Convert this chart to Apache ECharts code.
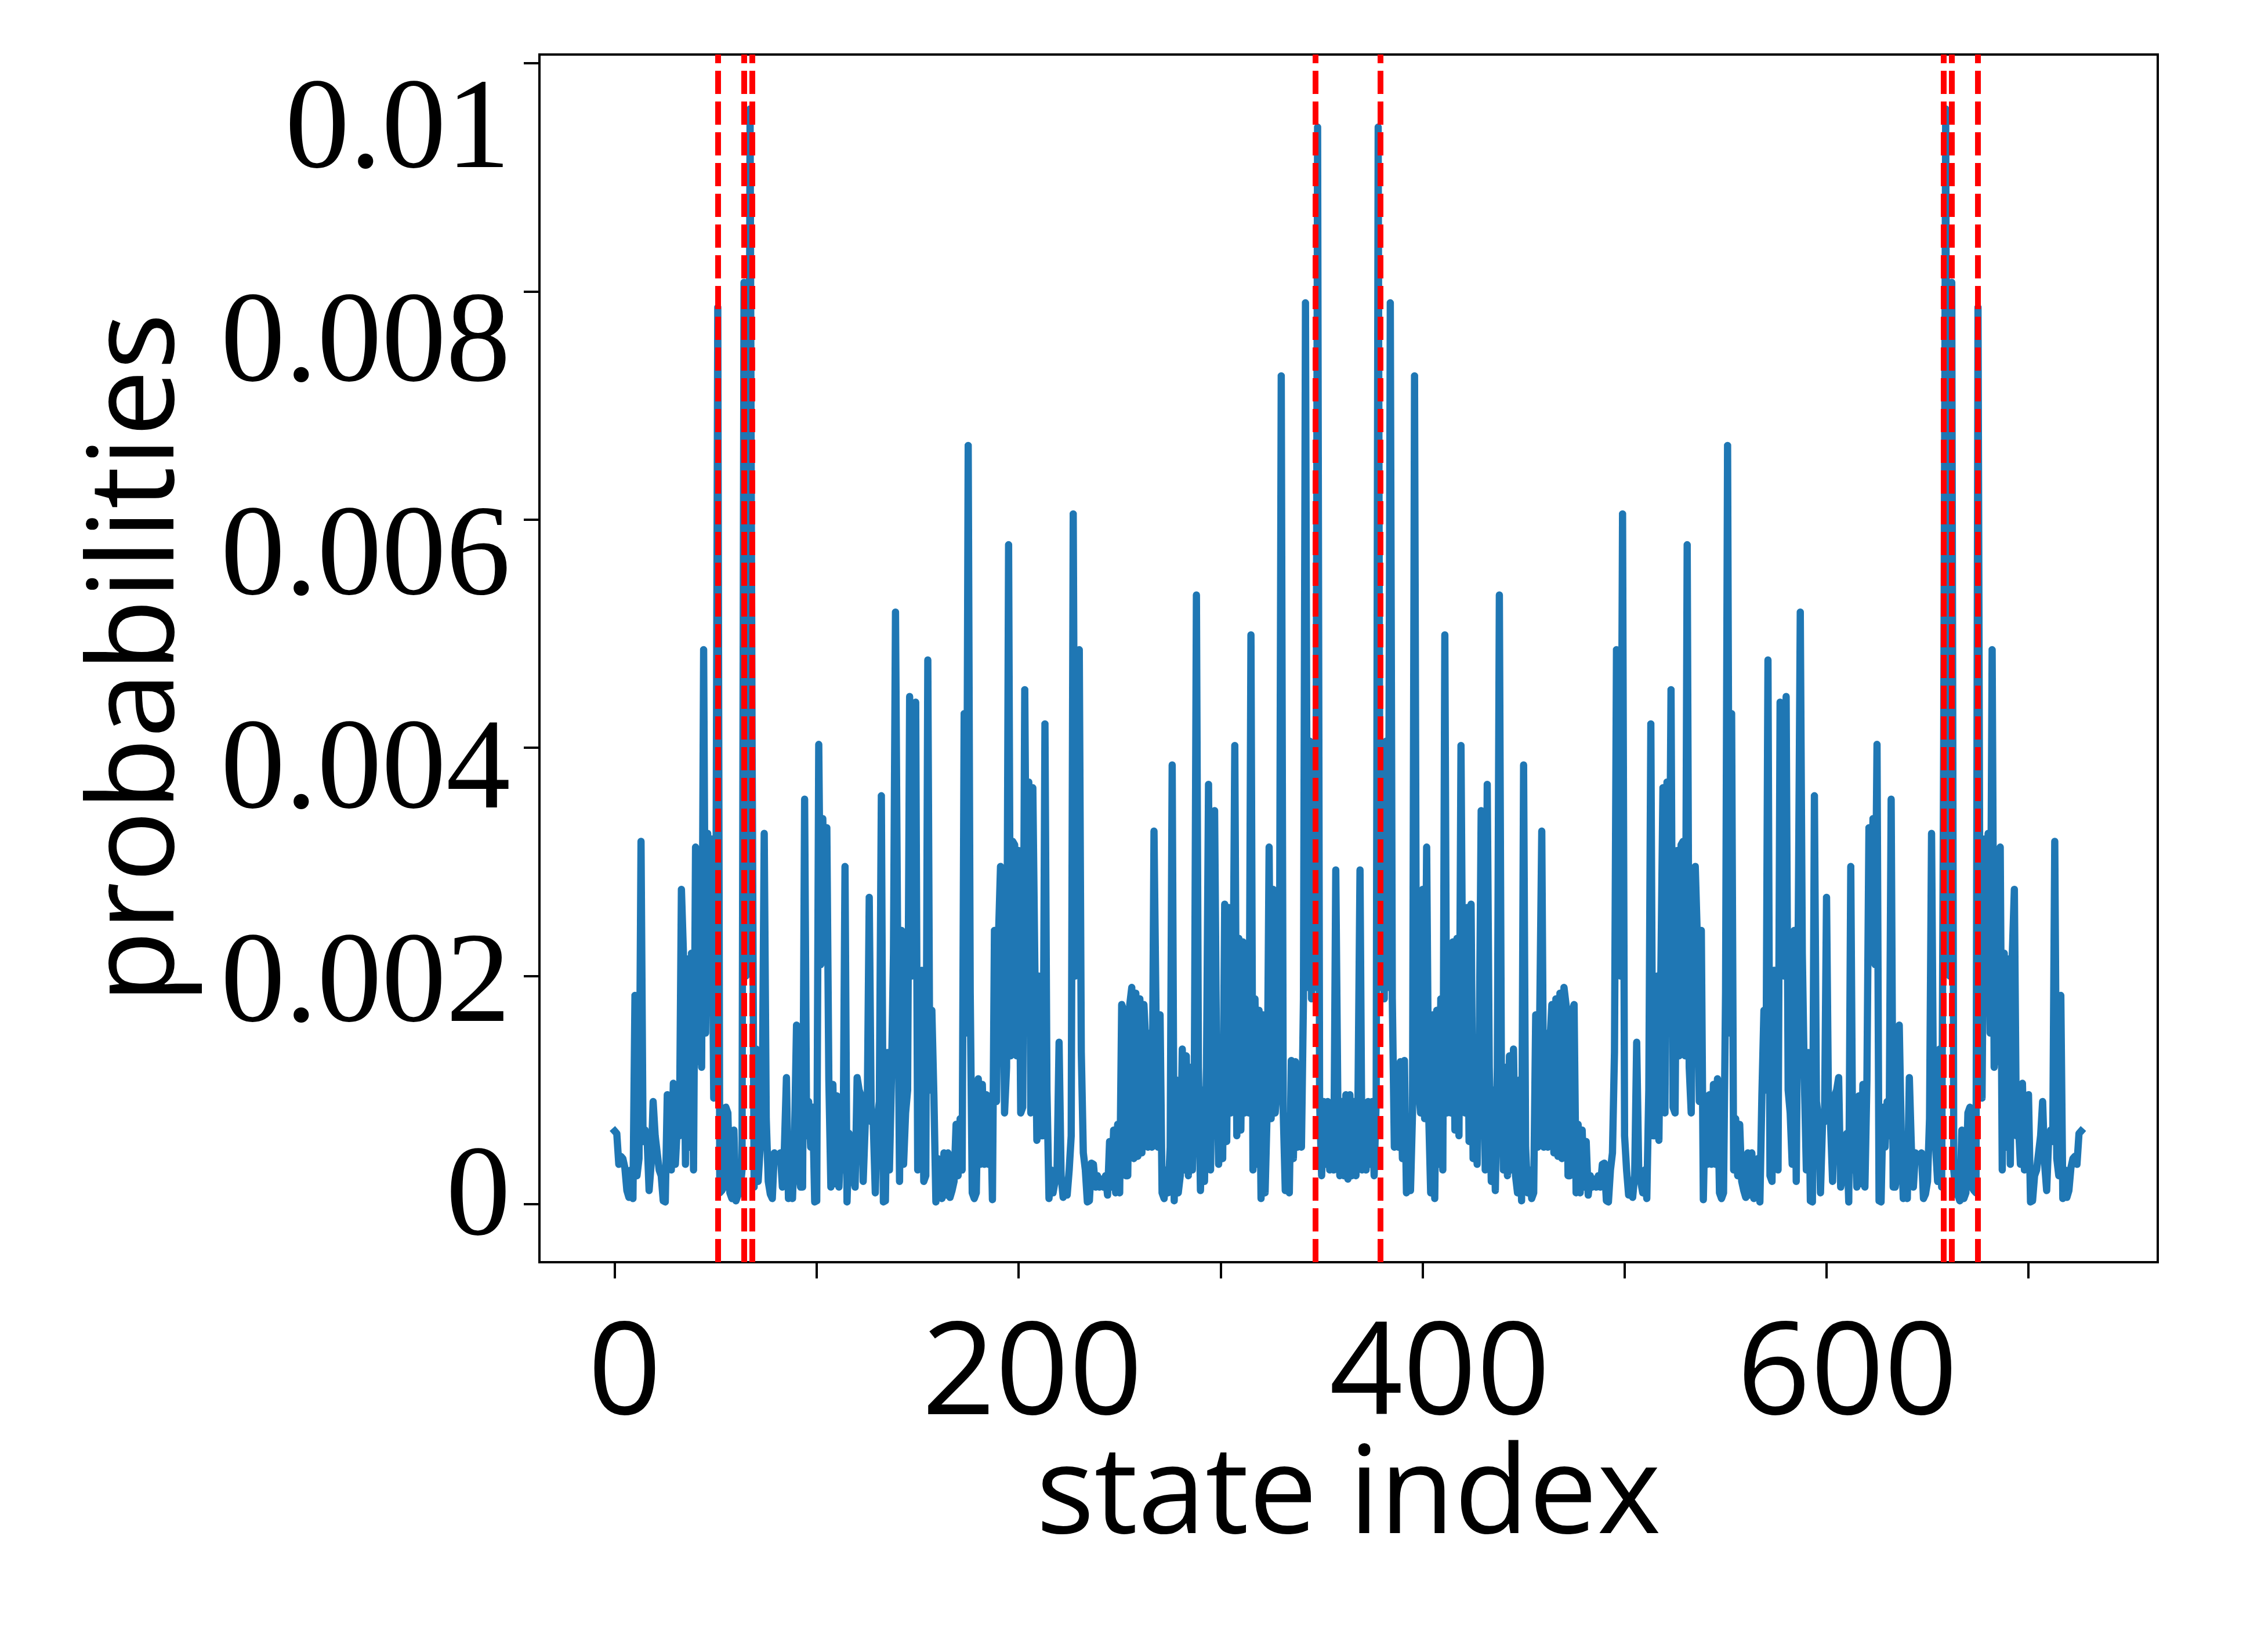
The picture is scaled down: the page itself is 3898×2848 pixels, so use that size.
<!DOCTYPE html>
<html>
<head>
<meta charset="utf-8">
<script src="https://cdn.jsdelivr.net/npm/echarts@6/dist/echarts.min.js"></script>
<style>
  html, body { margin: 0; padding: 0; background: #ffffff; }
  #chart { width: 3898px; height: 2848px; }
</style>
</head>
<body>
<div id="chart"></div>
<script>
// Probabilities, in units of 1e-4, state index 0..363
const probE4StatesA = [
  6.4, 6.2, 3.5, 4.2, 4.0, 3.2, 1.2, 0.6, 3.0, 0.5,
  18.3, 2.5, 4.0, 31.8, 5.5, 6.5, 5.8, 1.2, 3.5, 9.0,
  6.0, 4.5, 3.0, 2.5, 0.3, 0.2, 9.6, 8.8, 3.0, 10.6,
  3.5, 7.0, 6.0, 27.6, 22.0, 3.5, 21.5, 5.0, 22.0, 3.0,
  31.3, 12.5, 31.0, 12.0, 48.6, 15.0, 32.5, 18.0, 32.0, 9.3,
  20.0, 78.6, 1.0, 1.2, 1.5, 8.5, 8.0, 1.0, 0.5, 6.5,
  0.3, 0.8, 1.0, 3.0, 80.8, 20.0, 30.0, 96.0, 40.0, 1.5,
  13.6, 2.0, 5.0, 8.0, 32.5, 7.5, 2.0, 0.9, 0.5, 4.5,
  4.0, 4.2, 4.5, 1.5, 5.0, 11.1, 0.5, 3.5, 0.5, 6.0,
  15.7, 3.0, 1.5, 1.5, 35.5, 6.0, 9.0, 5.0, 8.5, 0.2,
  0.3, 40.3, 21.0, 33.8, 22.0, 33.0, 10.9, 1.5, 10.5, 1.8,
  9.5, 1.5, 6.0, 3.0, 29.6, 0.2, 6.2, 5.5, 2.5, 1.5,
  11.1, 10.0, 9.5, 2.0, 7.0, 8.0, 26.9, 7.3, 7.0, 1.0,
  7.5, 9.0, 35.8, 0.2, 0.3, 13.3, 3.0, 11.0, 22.0, 51.9,
  24.6, 2.0, 24.0, 3.5, 8.0, 10.0, 44.5, 20.0, 25.0, 44.0,
  3.0, 20.0, 20.5, 2.0, 2.5, 47.7, 10.0, 17.0, 9.6, 0.2,
  4.0, 3.5, 0.5, 4.5, 0.8, 4.5, 0.6, 1.2, 2.0, 7.0,
  2.5, 7.5, 3.0, 43.0, 15.0, 66.5, 18.5, 1.0, 0.5, 1.0,
  11.0, 3.5, 10.5, 3.5, 9.6, 3.5, 9.5, 0.4, 24.0, 9.0,
  23.5, 29.6, 29.0, 8.0, 12.0, 57.8, 13.0, 31.8, 31.5, 13.0,
  31.0, 8.0, 8.5, 45.1, 20.0, 37.0, 8.0, 36.5, 20.8, 5.6,
  20.0, 6.0, 6.0, 42.1, 10.0, 0.5, 3.0, 1.0, 2.0, 3.0,
  14.2, 2.5, 0.6, 1.0, 0.8, 3.0, 6.0, 60.5, 20.0, 22.0,
  48.6, 13.3, 4.5, 3.0, 0.2, 0.3, 3.6, 3.5, 1.5, 2.5,
  1.5, 2.2, 1.5, 2.5, 0.8, 5.5, 1.5, 6.5, 1.0, 7.0,
  1.0, 17.5, 17.0, 2.5, 2.5, 17.5, 19.0, 4.0, 18.5, 4.2,
  18.0, 4.5, 17.5, 14.0, 5.0, 15.0, 5.0, 32.7, 16.7, 5.0,
  16.6, 1.0, 0.5, 3.0, 1.0, 5.0, 38.5, 0.3, 10.9, 1.0,
  2.5, 13.6, 3.0, 13.0, 2.5, 12.0, 3.0, 12.0, 53.4, 12.0,
  1.2, 10.0, 2.0, 12.0, 36.8, 3.0, 20.0, 34.5, 12.6, 3.5,
  12.0, 4.0, 26.3, 5.5, 26.0, 8.0, 14.0, 40.2, 6.0, 23.3,
  6.5, 23.0, 8.0, 22.5, 8.0, 49.9, 3.0, 18.0, 3.5, 17.0,
  0.5, 16.6, 1.0, 8.0, 31.3, 7.5, 27.6, 8.0, 10.0, 12.0,
  72.6, 8.0, 1.2, 7.5, 1.0, 12.6, 4.0, 12.5, 5.0, 12.0,
  5.0, 18.0, 79.0, 19.0, 40.6, 18.0, 40.0, 19.0, 94.4, 9.0,
  2.5, 9.0, 3.5, 9.0, 3.0, 8.0, 3.0, 29.3, 9.3, 2.5,
  9.0, 2.5, 9.6, 2.2
];
// Probabilities, in units of 1e-4, state index 364..726
const probE4StatesB = [
  9.6, 2.5, 9.0, 2.5, 9.3, 29.3, 3.0, 8.0, 3.0, 9.0,
  3.5, 9.0, 2.5, 9.0, 94.4, 19.0, 40.0, 18.0, 40.6, 19.0,
  79.0, 18.0, 5.0, 12.0, 5.0, 12.5, 4.0, 12.6, 1.0, 7.5,
  1.2, 8.0, 72.6, 12.0, 10.0, 8.0, 27.6, 7.5, 31.3, 8.0,
  1.0, 16.6, 0.5, 17.0, 3.5, 18.0, 3.0, 49.9, 8.0, 22.5,
  8.0, 23.0, 6.5, 23.3, 6.0, 40.2, 14.0, 8.0, 26.0, 5.5,
  26.3, 4.0, 12.0, 3.5, 12.6, 34.5, 20.0, 3.0, 36.8, 12.0,
  2.0, 10.0, 1.2, 12.0, 53.4, 12.0, 3.0, 12.0, 2.5, 13.0,
  3.0, 13.6, 2.5, 1.0, 10.9, 0.3, 38.5, 5.0, 1.0, 3.0,
  0.5, 1.0, 16.6, 5.0, 16.7, 32.7, 5.0, 15.0, 5.0, 14.0,
  17.5, 4.5, 18.0, 4.2, 18.5, 4.0, 19.0, 17.5, 2.5, 2.5,
  17.0, 17.5, 1.0, 7.0, 1.0, 6.5, 1.5, 5.5, 0.8, 2.5,
  1.5, 2.2, 1.5, 2.5, 1.5, 3.5, 3.6, 0.3, 0.2, 3.0,
  4.5, 13.3, 48.6, 22.0, 20.0, 60.5, 6.0, 3.0, 0.8, 1.0,
  0.6, 2.5, 14.2, 3.0, 2.0, 1.0, 3.0, 0.5, 10.0, 42.1,
  6.0, 6.0, 20.0, 5.6, 20.8, 36.5, 8.0, 37.0, 20.0, 45.1,
  8.5, 8.0, 31.0, 13.0, 31.5, 31.8, 13.0, 57.8, 12.0, 8.0,
  29.0, 29.6, 23.5, 9.0, 24.0, 0.4, 9.5, 3.5, 9.6, 3.5,
  10.5, 3.5, 11.0, 1.0, 0.5, 1.0, 18.5, 66.5, 15.0, 43.0,
  3.0, 7.5, 2.5, 7.0, 2.0, 1.2, 0.6, 4.5, 0.8, 4.5,
  0.5, 3.5, 4.0, 0.2, 9.6, 17.0, 10.0, 47.7, 2.5, 2.0,
  20.5, 20.0, 3.0, 44.0, 25.0, 20.0, 44.5, 10.0, 8.0, 3.5,
  24.0, 2.0, 24.6, 51.9, 22.0, 11.0, 3.0, 13.3, 0.3, 0.2,
  35.8, 9.0, 7.5, 1.0, 7.0, 7.3, 26.9, 8.0, 7.0, 2.0,
  9.5, 10.0, 11.1, 1.5, 2.5, 5.5, 6.2, 0.2, 29.6, 3.0,
  6.0, 1.5, 9.5, 1.8, 10.5, 1.5, 10.9, 33.0, 22.0, 33.8,
  21.0, 40.3, 0.3, 0.2, 8.5, 5.0, 9.0, 6.0, 35.5, 1.5,
  1.5, 3.0, 15.7, 6.0, 0.5, 3.5, 0.5, 11.1, 5.0, 1.5,
  4.5, 4.2, 4.0, 4.5, 0.5, 0.9, 2.0, 7.5, 32.5, 8.0,
  5.0, 2.0, 13.6, 1.5, 40.0, 96.0, 30.0, 20.0, 80.8, 3.0,
  1.0, 0.8, 0.3, 6.5, 0.5, 1.0, 8.0, 8.5, 1.5, 1.2,
  1.0, 78.6, 20.0, 9.3, 32.0, 18.0, 32.5, 15.0, 48.6, 12.0,
  31.0, 12.5, 31.3, 3.0, 22.0, 5.0, 21.5, 3.5, 22.0, 27.6,
  6.0, 7.0, 3.5, 10.6, 3.0, 8.8, 9.6, 0.2, 0.3, 2.5,
  3.0, 4.5, 6.0, 9.0, 3.5, 1.2, 5.8, 6.5, 5.5, 31.8,
  4.0, 2.5, 18.3, 0.5, 3.0, 0.6, 1.2, 3.2, 4.0, 4.2,
  3.5, 6.2, 6.4
];
const UNIT = 1e-4;
// States marked with red dashed vertical lines
const markedStates = [51, 64, 68, 347, 379, 658, 662, 675];
// Tick values / labels
const xTickValues = [0, 100, 200, 300, 400, 500, 600, 700];
const xLabelValues = [0, 200, 400, 600];
const yTickValues = [0, 0.002, 0.004, 0.006, 0.008, 0.01];
const yLabelTexts = ['0', '0.002', '0.004', '0.006', '0.008', '0.01'];

const probabilities = probE4StatesA.concat(probE4StatesB).map(v => v * UNIT);
const lineData = probabilities.map((p, i) => [i, p]);

const chart = echarts.init(document.getElementById('chart'), null, { renderer: 'canvas' });
const option = {
  backgroundColor: '#ffffff',
  animation: false,
  grid: {
    left: 930, top: 94, width: 2790, height: 2082,
    show: true, borderColor: '#000000', borderWidth: 4, backgroundColor: 'transparent'
  },
  xAxis: [
    {
      type: 'value', min: -37.3, max: 764,
      axisLine: { show: true, onZero: false, lineStyle: { color: '#000000', width: 4 } },
      axisTick: { show: true, customValues: xTickValues, length: 28, lineStyle: { color: '#000000', width: 4 } },
      axisLabel: { show: false },
      splitLine: { show: false },
      name: 'state index', nameLocation: 'middle', nameGap: 302,
      nameTextStyle: { fontFamily: 'Open Sans', fontSize: 210, color: '#000000' }
    },
    {
      type: 'value', position: 'bottom', min: -41.8, max: 752.3,
      axisLine: { show: false }, axisTick: { show: false }, splitLine: { show: false },
      axisLabel: {
        show: true, customValues: xLabelValues, margin: 88,
        fontFamily: 'Open Sans', fontSize: 222, color: '#000000',
        formatter: v => String(Math.round(v))
      }
    }
  ],
  yAxis: [
    {
      type: 'value', min: -0.000508, max: 0.010076,
      axisLine: { show: true, onZero: false, lineStyle: { color: '#000000', width: 4 } },
      axisTick: { show: true, customValues: yTickValues, length: 27, lineStyle: { color: '#000000', width: 4 } },
      axisLabel: { show: false },
      splitLine: { show: false },
      name: 'probabilities', nameLocation: 'middle', nameRotate: 90, nameGap: 587,
      nameTextStyle: { fontFamily: 'Open Sans', fontSize: 205, color: '#000000' }
    },
    {
      type: 'value', position: 'left', min: -0.000576, max: 0.010739,
      axisLine: { show: false }, axisTick: { show: false }, splitLine: { show: false },
      axisLabel: {
        show: true, customValues: yTickValues, margin: 50,
        fontFamily: 'Liberation Serif', fontSize: 222, color: '#000000',
        formatter: v => {
          const k = yTickValues.findIndex(t => Math.abs(t - v) < 1e-9);
          return k >= 0 ? yLabelTexts[k] : '';
        }
      }
    }
  ],
  series: [
    {
      type: 'line', xAxisIndex: 0, yAxisIndex: 0,
      data: lineData, showSymbol: false, symbol: 'none',
      lineStyle: { color: '#1f77b4', width: 12.5, join: 'round', cap: 'square' },
      z: 2
    },
    {
      type: 'line', xAxisIndex: 0, yAxisIndex: 0, data: [], z: 5,
      markLine: {
        silent: true, symbol: ['none', 'none'], animation: false,
        label: { show: false },
        lineStyle: { color: '#ff0000', width: 10, type: [40, 13], opacity: 1 },
        emphasis: { disabled: true },
        data: markedStates.map(s => ({ xAxis: s }))
      }
    }
  ]
};
chart.setOption(option);
</script>
</body>
</html>
